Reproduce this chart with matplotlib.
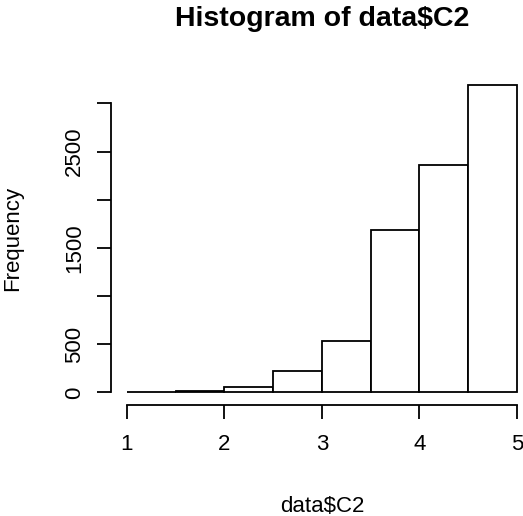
import matplotlib.pyplot as plt

# bin edges and counts
bin_edges = [1.0, 1.5, 2.0, 2.5, 3.0, 3.5, 4.0, 4.5, 5.0]
counts = [2, 15, 55, 225, 535, 1690, 2360, 3190]
y_ticks = [0, 500, 1000, 1500, 2000, 2500, 3000]
y_labels = ["0", "500", "", "1500", "", "2500", ""]
x_ticks = [1, 2, 3, 4, 5]

plt.rcParams['font.family'] = ['Liberation Sans', 'DejaVu Sans']

fig = plt.figure(figsize=(5.23, 5.16), dpi=100)
ax = fig.add_axes([0.213, 0.2155, 0.805, 0.644])

widths = [b - a for a, b in zip(bin_edges[:-1], bin_edges[1:])]
ax.bar(bin_edges[:-1], counts, width=widths, align='edge',
       facecolor='white', edgecolor='black', linewidth=1.3)

ax.set_xlim(0.84, 5.16)
ax.set_ylim(-127.7, 3319.7)

# R style detached axes
for side in ['top', 'right']:
    ax.spines[side].set_visible(False)
ax.spines['left'].set_bounds(0, 3000)
ax.spines['bottom'].set_bounds(1, 5)
ax.spines['left'].set_linewidth(1.3)
ax.spines['bottom'].set_linewidth(1.3)

ax.set_xticks(x_ticks)
ax.set_xticklabels([str(t) for t in x_ticks])
ax.set_yticks(y_ticks)
ax.set_yticklabels(y_labels, rotation=90, va='center')
ax.tick_params(axis='both', length=10, width=1.3, labelsize=16, color='black')
ax.tick_params(axis='x', pad=11)
ax.tick_params(axis='y', pad=9)

ax.set_xlabel("data$C2", fontsize=16)
ax.set_ylabel("Frequency", fontsize=16)
ax.xaxis.set_label_coords(0.5, -0.275)
ax.yaxis.set_label_coords(-0.21, 0.5)

# main title near the top of the figure
fig.text((111.4 + 421 / 2) / 523, 1 - 19 / 516, "Histogram of data$C2",
         ha='center', va='center', fontsize=20.5, fontweight='bold')

fig.savefig("out.png", dpi=100)
